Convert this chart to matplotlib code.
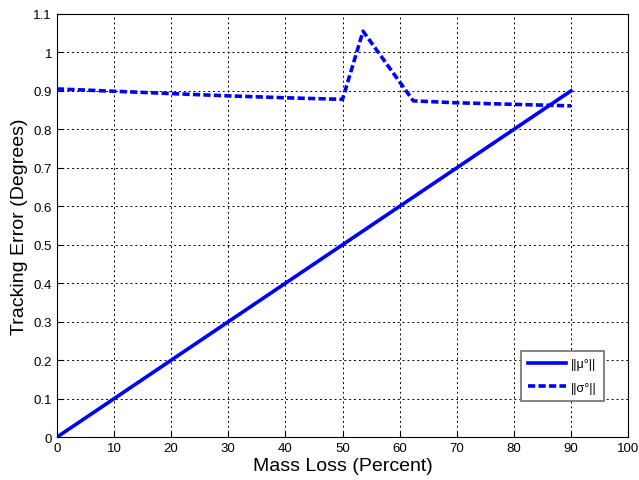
import matplotlib
matplotlib.use('Agg')
import matplotlib.pyplot as plt

plt.rcParams['font.family'] = ['Liberation Sans', 'DejaVu Sans']

# mass loss (percent)
mass_loss = [0, 10, 20, 30, 40, 50, 90]
mu_err = [0, 0.1, 0.2, 0.3, 0.4, 0.5, 0.9]

sigma_x = [0, 10, 20, 30, 40, 50, 53.6, 62.4, 70, 80, 90]
sigma_err = [0.905, 0.899, 0.893, 0.887, 0.882, 0.878, 1.055, 0.874, 0.869, 0.865, 0.861]

fig = plt.figure(figsize=(6.39, 4.81), dpi=100)
ax = fig.add_axes([0.089, 0.089, 0.894, 0.880])

ax.plot(mass_loss, mu_err, '-', color='#0000ff', linewidth=2.6, label='||\u03bc\u00b0||')
ax.plot(sigma_x, sigma_err, '--', color='#0000ff', linewidth=2.6, dashes=(2, 0.9), label='||\u03c3\u00b0||')

ax.set_xlim(0, 100)
ax.set_ylim(0, 1.1)
ax.set_xticks(range(0, 101, 10))
ax.set_yticks([i / 10 for i in range(12)])
ax.set_yticklabels(['0', '0.1', '0.2', '0.3', '0.4', '0.5', '0.6', '0.7', '0.8', '0.9', '1', '1.1'])
ax.tick_params(direction='in', labelsize=9.5, length=4)
ax.grid(color='black', linestyle=(0, (2, 3)), linewidth=0.7)
ax.set_xlabel('Mass Loss (Percent)', fontsize=14, labelpad=2)
ax.set_ylabel('Tracking Error (Degrees)', fontsize=14, labelpad=4)

leg = ax.legend(loc='lower right', bbox_to_anchor=(0.958, 0.085), borderaxespad=0,
                fontsize=9, fancybox=False, framealpha=1, edgecolor='#707070',
                handlelength=3.0, handletextpad=0.4, labelspacing=0.9, borderpad=0.6)
leg.get_frame().set_linewidth(1.2)

plt.savefig('out.png')
